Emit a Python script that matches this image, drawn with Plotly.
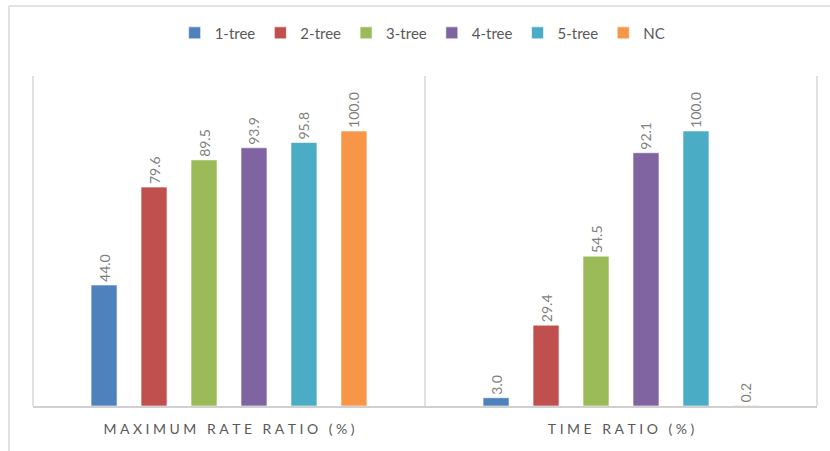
import plotly.graph_objects as go

# categories and series
categories = ["MAXIMUM RATE RATIO (%)", "TIME RATIO (%)"]
series_names = ["1-tree", "2-tree", "3-tree", "4-tree", "5-tree", "NC"]
tree1 = [44.0, 3.0]
tree2 = [79.6, 29.4]
tree3 = [89.5, 54.5]
tree4 = [93.9, 92.1]
tree5 = [95.8, 100.0]
nc = [100.0, 0.2]

colors = ["#4F81BD", "#C0504D", "#9BBB59", "#8064A2", "#4BACC6", "#F79646"]
gray = "#595959"
font_name = "Lato"

# spread the letters of the category labels like the Excel axis
spaced = ["\u2005".join(c) for c in categories]

fig = go.Figure()
for name, vals, col in zip(series_names, [tree1, tree2, tree3, tree4, tree5, nc], colors):
    fig.add_trace(go.Bar(
        x=categories, y=vals, name=name,
        marker=dict(color=col, line=dict(color="rgba(255,255,255,0.6)", width=1)),
        text=["%.1f" % v for v in vals],
        textposition="outside", textangle=-90, constraintext="none",
        textfont=dict(family=font_name, size=14, color="#7f7f7f"),
        cliponaxis=False,
    ))

fig.update_layout(
    width=830, height=451,
    margin=dict(l=33, r=13, t=76, b=45),
    paper_bgcolor="white", plot_bgcolor="white",
    barmode="group", bargap=0.235, bargroupgap=0.48,
    font=dict(family=font_name, color=gray),
    showlegend=True,
    legend=dict(orientation="h", x=0.497, xanchor="center", y=1.13, yanchor="middle",
                font=dict(size=15, color=gray), itemwidth=30),
    xaxis=dict(tickmode="array", tickvals=categories, ticktext=spaced,
               tickfont=dict(size=14, color=gray), ticklabelstandoff=9,
               showgrid=False, showline=True, linecolor="#d0d0d0", linewidth=2, ticks=""),
    yaxis=dict(range=[0, 120], visible=False),
)

# vertical gridlines at the category boundaries
for gx in [0, 0.5, 1]:
    fig.add_shape(type="line", xref="paper", yref="paper", x0=gx, x1=gx, y0=0, y1=1,
                  line=dict(color="#d9d9d9", width=1.5), layer="below")

# outer chart frame (left and top edges)
frame = "#d9d9d9"
fig.add_shape(type="line", xref="paper", yref="paper", x0=-0.0306, x1=-0.0306, y0=-0.2, y1=1.212,
              line=dict(color=frame, width=1.5))
fig.add_shape(type="line", xref="paper", yref="paper", x0=-0.0306, x1=1.02, y0=1.212, y1=1.212,
              line=dict(color=frame, width=1.5))

# drop the default page margin so the figure sits at the window corner
fig.write_html("out.html", config={"displayModeBar": False},
               post_script="document.body.style.margin='0px';")
